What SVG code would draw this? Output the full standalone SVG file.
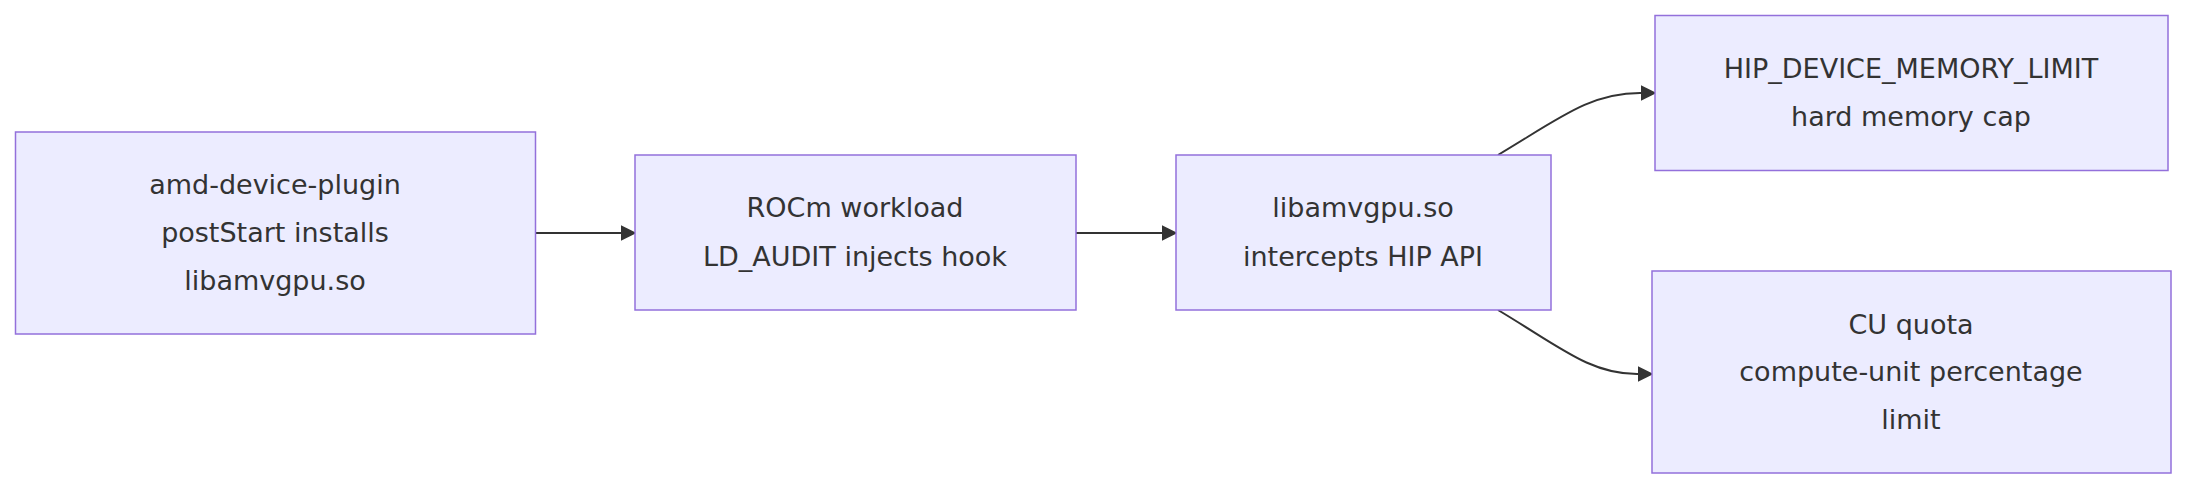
<svg xmlns="http://www.w3.org/2000/svg" width="2192" height="492" viewBox="0 0 2192 492">
<style>
.n rect{fill:#ECECFF;stroke:#9370DB;stroke-width:1.5}
.n text{font-family:"DejaVu Sans",sans-serif;font-size:27px;fill:#333;text-anchor:middle}
.e path{fill:none;stroke:#333;stroke-width:2}
</style>
<defs><marker id="a" viewBox="0 0 10 10" refX="10" refY="5" markerWidth="8" markerHeight="8" orient="auto" markerUnits="userSpaceOnUse"><path d="M0,0L10,5L0,10z" fill="#333" transform="scale(1)"/></marker>
<marker id="b" viewBox="0 0 10 10" refX="9" refY="5" markerWidth="16" markerHeight="16" orient="auto" markerUnits="userSpaceOnUse"><path d="M0,0L10,5L0,10z" fill="#333"/></marker></defs>
<g class="e">
<path d="M535,233L635,233" marker-end="url(#b)"/>
<path d="M1076,233L1176,233" marker-end="url(#b)"/>
<path d="M1498,155C1560,118 1590,93 1640,93L1655,93" marker-end="url(#b)"/>
<path d="M1498,310C1560,347 1590,374 1637,374L1652,374" marker-end="url(#b)"/>
</g>
<g id="n1" class="n"><rect x="15.5" y="132" width="520" height="202"/><text x="275" y="194">amd-device-plugin</text><text x="275" y="242">postStart installs</text><text x="275" y="290">libamvgpu.so</text></g>
<g id="n2" class="n"><rect x="635" y="155" width="441" height="155"/><text x="855" y="217">ROCm workload</text><text x="855" y="266">LD_AUDIT injects hook</text></g>
<g id="n3" class="n"><rect x="1176" y="155" width="375" height="155"/><text x="1363" y="217">libamvgpu.so</text><text x="1363" y="266">intercepts HIP API</text></g>
<g id="n4" class="n"><rect x="1655" y="15.5" width="513" height="155"/><text x="1911" y="78">HIP_DEVICE_MEMORY_LIMIT</text><text x="1911" y="126">hard memory cap</text></g>
<g id="n5" class="n"><rect x="1652" y="271" width="519" height="202"/><text x="1911" y="334">CU quota</text><text x="1911" y="381">compute-unit percentage</text><text x="1911" y="429">limit</text></g>
</svg>
